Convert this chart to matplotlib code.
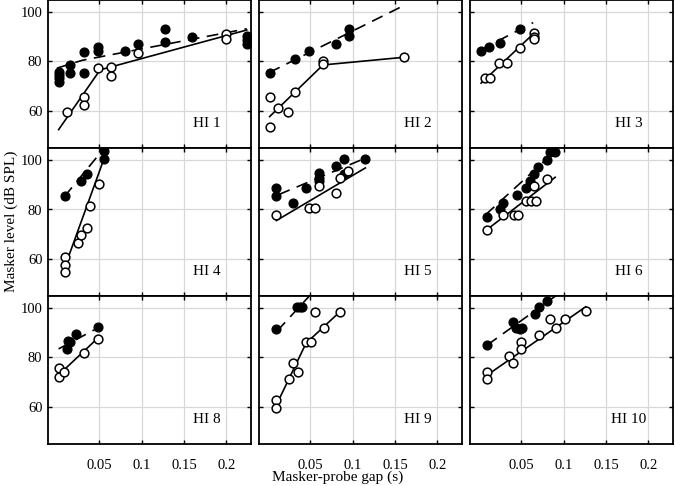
import matplotlib.pyplot as plt

plt.rcParams['font.family'] = ['Liberation Serif', 'DejaVu Serif']

# HI 1
hi1_fx = [0.002, 0.002, 0.002, 0.002, 0.016, 0.016, 0.032, 0.032, 0.048, 0.048, 0.080, 0.096, 0.128, 0.128, 0.159, 0.224, 0.224, 0.224]
hi1_fy = [75.9, 74.6, 73.2, 71.8, 78.6, 75.2, 84.0, 75.2, 86.0, 84.4, 84.3, 87.1, 93.2, 88.1, 90.1, 90.4, 88.8, 87.1]
hi1_ox = [0.012, 0.032, 0.032, 0.048, 0.064, 0.064, 0.096, 0.200, 0.200]
hi1_oy = [59.3, 65.5, 62.4, 77.3, 77.9, 74.2, 83.4, 91.2, 89.0]
hi1_dx = [0.0, 0.03, 0.224]
hi1_dy = [77.3, 80.5, 93.3]
hi1_sx = [0.002, 0.051, 0.224]
hi1_sy = [52.3, 76.6, 92.8]

# HI 2
hi2_fx = [0.002, 0.032, 0.049, 0.080, 0.096, 0.096]
hi2_fy = [75.2, 81.1, 84.3, 87.1, 93.1, 90.4]
hi2_ox = [0.002, 0.002, 0.012, 0.024, 0.032, 0.065, 0.065, 0.160]
hi2_oy = [65.4, 53.3, 61.3, 59.3, 67.4, 80.4, 79.0, 81.7]
hi2_dx = [0.0015, 0.160]
hi2_dy = [75.5, 102.7]
hi2_sx = [0.002, 0.065, 0.160]
hi2_sy = [57.6, 78.6, 81.7]

# HI 3
hi3_fx = [0.002, 0.012, 0.0245, 0.048]
hi3_fy = [84.3, 86.0, 87.4, 93.1]
hi3_ox = [0.007, 0.013, 0.024, 0.033, 0.048, 0.065, 0.065, 0.065]
hi3_oy = [73.2, 73.2, 79.3, 79.3, 85.4, 91.5, 90.1, 89.2]
hi3_dx = [0.002, 0.064]
hi3_dy = [84.7, 95.8]
hi3_sx = [0.0026, 0.065]
hi3_sy = [71.2, 91.5]

# HI 4
hi4_fx = [0.009, 0.029, 0.035, 0.0555, 0.0555]
hi4_fy = [85.6, 91.5, 94.5, 103.7, 100.4]
hi4_ox = [0.009, 0.009, 0.009, 0.0245, 0.029, 0.035, 0.039, 0.050]
hi4_oy = [60.6, 57.3, 54.6, 66.4, 69.5, 72.5, 81.6, 90.5]
hi4_dx = [0.009, 0.056]
hi4_dy = [85.3, 105.0]
hi4_sx = [0.0096, 0.057]
hi4_sy = [56.9, 102.0]

# HI 5
hi5_fx = [0.010, 0.010, 0.030, 0.045, 0.060, 0.060, 0.060, 0.080, 0.090, 0.090, 0.115]
hi5_fy = [88.8, 85.4, 82.7, 88.8, 94.9, 92.8, 91.5, 97.6, 100.7, 94.5, 100.7]
hi5_ox = [0.010, 0.049, 0.056, 0.060, 0.080, 0.085, 0.095]
hi5_oy = [77.6, 80.6, 80.6, 89.4, 86.7, 92.8, 95.8]
hi5_dx = [0.013, 0.111]
hi5_dy = [86.1, 100.3]
hi5_sx = [0.010, 0.115]
hi5_sy = [75.5, 96.9]

# HI 6
hi6_fx = [0.009, 0.025, 0.029, 0.045, 0.055, 0.060, 0.0655, 0.070, 0.080, 0.084, 0.090]
hi6_fy = [76.8, 80.0, 82.7, 85.8, 88.8, 91.7, 94.5, 97.2, 100.3, 103.4, 103.4]
hi6_ox = [0.009, 0.029, 0.041, 0.046, 0.056, 0.062, 0.067, 0.0655, 0.080]
hi6_oy = [71.5, 77.6, 77.6, 77.6, 83.6, 83.6, 83.6, 89.4, 92.6]
hi6_dx = [0.008, 0.092]
hi6_dy = [77.9, 104.3]
hi6_sx = [0.006, 0.090]
hi6_sy = [70.9, 93.1]

# HI 8
hi8_fx = [0.013, 0.012, 0.016, 0.023, 0.048]
hi8_fy = [86.8, 83.5, 86.4, 89.4, 92.3]
hi8_ox = [0.002, 0.002, 0.008, 0.032, 0.048]
hi8_oy = [75.9, 72.2, 74.0, 81.7, 87.4]
hi8_dx = [0.002, 0.051]
hi8_dy = [83.5, 92.5]
hi8_sx = [0.002, 0.048]
hi8_sy = [72.9, 87.8]

# HI 9
hi9_fx = [0.010, 0.034, 0.038, 0.040]
hi9_fy = [91.6, 100.4, 100.4, 100.4]
hi9_ox = [0.010, 0.010, 0.025, 0.030, 0.036, 0.045, 0.051, 0.056, 0.066, 0.085]
hi9_oy = [62.7, 59.6, 71.3, 77.6, 74.2, 86.2, 86.2, 98.6, 92.1, 98.6]
hi9_dx = [0.011, 0.050]
hi9_dy = [90.8, 105.4]
hi9_sx = [0.010, 0.045, 0.085]
hi9_sy = [60.7, 85.8, 98.6]

# HI 10
hi10_fx = [0.010, 0.040, 0.044, 0.049, 0.051, 0.066, 0.0705, 0.080]
hi10_fy = [85.1, 94.3, 91.9, 91.6, 91.9, 97.6, 100.4, 103.1]
hi10_ox = [0.010, 0.010, 0.036, 0.040, 0.050, 0.050, 0.0705, 0.084, 0.091, 0.101, 0.126]
hi10_oy = [74.2, 71.3, 80.6, 77.6, 86.2, 83.3, 89.1, 95.7, 92.1, 95.7, 98.9]
hi10_dx = [0.010, 0.092]
hi10_dy = [85.1, 105.4]
hi10_sx = [0.010, 0.126]
hi10_sy = [72.9, 100.6]

labels = ['HI 1', 'HI 2', 'HI 3', 'HI 4', 'HI 5', 'HI 6', 'HI 8', 'HI 9', 'HI 10']
panels = [
    (hi1_fx, hi1_fy, hi1_ox, hi1_oy, hi1_dx, hi1_dy, hi1_sx, hi1_sy),
    (hi2_fx, hi2_fy, hi2_ox, hi2_oy, hi2_dx, hi2_dy, hi2_sx, hi2_sy),
    (hi3_fx, hi3_fy, hi3_ox, hi3_oy, hi3_dx, hi3_dy, hi3_sx, hi3_sy),
    (hi4_fx, hi4_fy, hi4_ox, hi4_oy, hi4_dx, hi4_dy, hi4_sx, hi4_sy),
    (hi5_fx, hi5_fy, hi5_ox, hi5_oy, hi5_dx, hi5_dy, hi5_sx, hi5_sy),
    (hi6_fx, hi6_fy, hi6_ox, hi6_oy, hi6_dx, hi6_dy, hi6_sx, hi6_sy),
    (hi8_fx, hi8_fy, hi8_ox, hi8_oy, hi8_dx, hi8_dy, hi8_sx, hi8_sy),
    (hi9_fx, hi9_fy, hi9_ox, hi9_oy, hi9_dx, hi9_dy, hi9_sx, hi9_sy),
    (hi10_fx, hi10_fy, hi10_ox, hi10_oy, hi10_dx, hi10_dy, hi10_sx, hi10_sy),
]

xticks = [0.05, 0.1, 0.15, 0.2]
xticklabels = ['0.05', '0.1', '0.15', '0.2']
yticks = [60, 80, 100]

W, H = 675, 486
fig = plt.figure(figsize=(W / 100, H / 100), dpi=100)

col_left = [48, 259, 470]
row_top = [0, 148, 296]
pw, ph = 203, 147.6

for i, (fx, fy, ox, oy, dx, dy, sx, sy) in enumerate(panels):
    r, c = divmod(i, 3)
    ax = fig.add_axes([col_left[c] / W, 1 - (row_top[r] + ph) / H, pw / W, ph / H])
    ax.plot(dx, dy, color='black', lw=1.2, ls=(0, (7, 4.5)), zorder=3)
    ax.plot(sx, sy, color='black', lw=1.2, zorder=3)
    ax.plot(fx, fy, 'o', color='black', ms=6.3, zorder=4)
    ax.plot(ox, oy, 'o', mfc='white', mec='black', mew=1.1, ms=6.3, zorder=5)
    ax.set_xlim(-0.0105, 0.229)
    ax.set_ylim(45, 105)
    ax.set_xticks(xticks)
    ax.set_yticks(yticks)
    ax.grid(True, color='#d8d8d8', lw=0.9)
    ax.set_axisbelow(True)
    ax.tick_params(direction='in', top=True, right=True, length=3, width=1,
                   labelsize=10.5)
    ax.tick_params(axis='x', pad=11)
    ax.tick_params(axis='y', pad=4)
    for s in ax.spines.values():
        s.set_linewidth(1.3)
    if c == 0:
        ax.set_yticklabels([str(v) for v in yticks])
    else:
        ax.set_yticklabels([])
    if r == 2:
        ax.set_xticklabels(xticklabels)
    else:
        ax.set_xticklabels([])
    ax.text(0.78, 0.16, labels[i], transform=ax.transAxes, fontsize=11,
            ha='center', va='center')

fig.text(0.5, 0.018, 'Masker-probe gap (s)', ha='center', va='center', fontsize=11)
fig.text(0.016, 0.545, 'Masker level (dB SPL)', ha='center', va='center',
         rotation=90, fontsize=11)

fig.savefig('out.png', dpi=100)
